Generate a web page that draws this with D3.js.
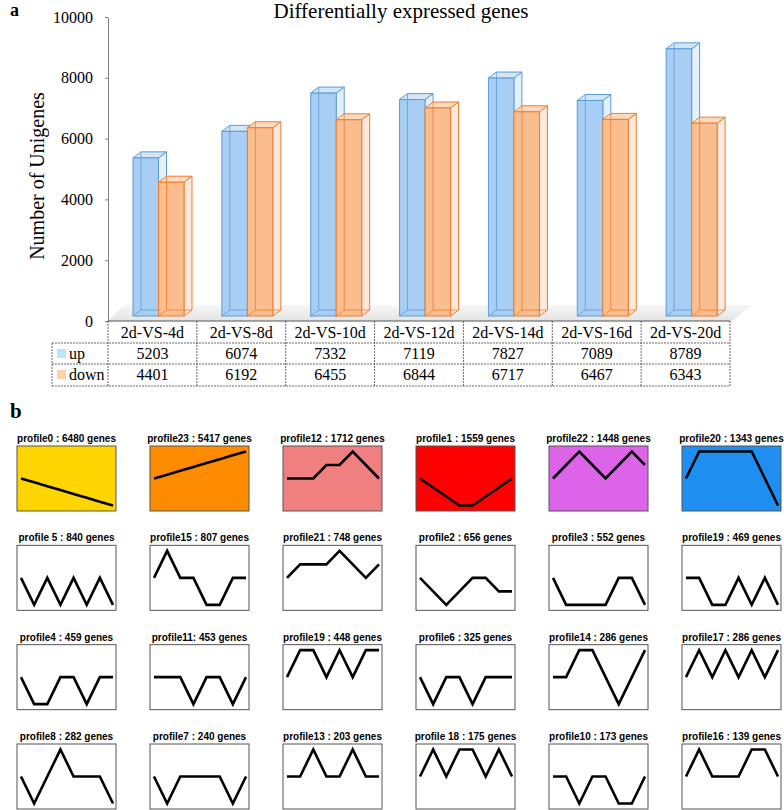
<!DOCTYPE html>
<html>
<head>
<meta charset="utf-8">
<script src="https://cdn.jsdelivr.net/npm/d3@7"></script>
<style>
  body { margin: 0; background: #fff; }
  svg { display: block; }
</style>
</head>
<body>
<div id="chart"></div>
<script>

// ---- panel a data ----
var categories = ['2d-VS-4d', '2d-VS-8d', '2d-VS-10d', '2d-VS-12d', '2d-VS-14d', '2d-VS-16d', '2d-VS-20d'];
var upValues = [5203, 6074, 7332, 7119, 7827, 7089, 8789];
var downValues = [4401, 6192, 6455, 6844, 6717, 6467, 6343];
var yTicks = [0, 2000, 4000, 6000, 8000, 10000];

// ---- panel b data (STEM profiles, unit changes at 8 time points) ----
var profileNames = [
    'profile0 : 6480 genes', 'profile23 : 5417 genes', 'profile12 : 1712 genes',
    'profile1 : 1559 genes', 'profile22 : 1448 genes', 'profile20 : 1343 genes',
    'profile 5 : 840 genes', 'profile15 : 807 genes', 'profile21 : 748 genes',
    'profile2 : 656 genes', 'profile3 : 552 genes', 'profile19 : 469 genes',
    'profile4 : 459 genes', 'profile11: 453 genes', 'profile19 : 448 genes',
    'profile6 : 325 genes', 'profile14 : 286 genes', 'profile17 : 286 genes',
    'profile8 : 282 genes', 'profile7 : 240 genes', 'profile13 : 203 genes',
    'profile 18 : 175 genes', 'profile10 : 173 genes', 'profile16 : 139 genes'
];
var profileColors = [
    '#ffd500', '#ff8c00', '#f08080', '#ff0000', '#dd63e8', '#1e8ff0'
];
var profileValues = [
    [0, -1, -2, -3, -4, -5, -6, -7],
    [0, 1, 2, 3, 4, 5, 6, 7],
    [0, 0, 0, 1, 1, 2, 1, 0],
    [0, -1, -2, -3, -3, -2, -1, 0],
    [0, 1, 2, 1, 0, 1, 2, 1],
    [0, 1, 1, 1, 1, 1, 0, -1],
    [0, -1, 0, -1, 0, -1, 0, -1],
    [0, 1, 0, 0, -1, -1, 0, 0],
    [0, 1, 1, 1, 2, 1, 0, 1],
    [0, -1, -2, -1, 0, 0, -1, -1],
    [0, -1, -1, -1, -1, 0, 0, -1],
    [0, 0, -1, -1, 0, -1, 0, -1],
    [0, -1, -1, 0, 0, -1, 0, 0],
    [0, 0, 0, -1, 0, 0, -1, 0],
    [0, 1, 1, 0, 1, 0, 1, 1],
    [0, -1, 0, 0, -1, 0, 0, 0],
    [0, 0, 1, 1, 0, -1, 0, 1],
    [0, 1, 0, 1, 0, 1, 0, 1],
    [0, -1, 0, 1, 0, 0, 0, -1],
    [0, -1, 0, 0, 0, 0, -1, 0],
    [0, 0, 1, 0, 0, 1, 0, 0],
    [0, 1, 0, 1, 1, 0, 1, 0],
    [0, 0, -1, 0, 0, -1, -1, 0],
    [0, 1, 0, 0, 0, 1, 1, 0]
];

var width = 784, height = 810;
var serif = '"Liberation Serif", "Times New Roman", serif';
var sans = '"Liberation Sans", Arial, sans-serif';

var svg = d3.select('#chart').append('svg')
    .attr('width', width)
    .attr('height', height);

// ================= panel a =================

var plot = { left: 108, right: 730, top: 17, bottom: 321 };
var floorOffset = 5;
var depth = { dx: 8, dy: -6 };

var x = d3.scaleBand()
    .domain(categories)
    .range([plot.left, plot.right]);

var sub = d3.scaleBand()
    .domain(['up', 'down'])
    .range([25, 76]);

var y = d3.scaleLinear()
    .domain([0, 10000])
    .range([plot.bottom, plot.top]);

svg.append('text')
    .attr('x', 10)
    .attr('y', 16)
    .style('font-family', serif)
    .style('font-weight', 'bold')
    .style('font-size', '18px')
    .text('a');

svg.append('text')
    .attr('x', 401)
    .attr('y', 18)
    .attr('text-anchor', 'middle')
    .style('font-family', serif)
    .style('font-size', '21px')
    .text('Differentially expressed genes');

svg.append('text')
    .attr('transform', 'translate(44,176) rotate(-90)')
    .attr('text-anchor', 'middle')
    .style('font-family', serif)
    .style('font-size', '20px')
    .text('Number of Unigenes');

// floor
var defs = svg.append('defs');
var grad = defs.append('linearGradient')
    .attr('id', 'floorGrad')
    .attr('x1', 0).attr('y1', 1).attr('x2', 0).attr('y2', 0);
grad.append('stop').attr('offset', '0%').attr('stop-color', '#e4e4e4');
grad.append('stop').attr('offset', '100%').attr('stop-color', '#f6f6f6');

svg.append('polygon')
    .attr('points', [
        [plot.left, plot.bottom],
        [plot.right + 2, plot.bottom],
        [plot.right + 22, plot.bottom - 16],
        [plot.left + 16, plot.bottom - 16]
    ].join(' '))
    .style('fill', 'url(#floorGrad)');

// y axis
var yAxis = svg.append('g')
    .attr('class', 'axis y-axis')
    .attr('transform', 'translate(' + plot.left + ',0)')
    .call(d3.axisLeft(y)
        .tickValues(yTicks)
        .tickFormat(d3.format('d'))
        .tickSize(3)
        .tickSizeOuter(0)
        .tickPadding(12));

yAxis.selectAll('path, line').attr('stroke', '#7f7f7f');
yAxis.selectAll('text')
    .style('font-family', serif)
    .style('font-size', '16px')
    .attr('fill', '#000');

// bars
var styles = {
    up: { front: '#a8cef4', side: '#e6f0fb', top: '#d3e6f8', stroke: '#5b9bd5' },
    down: { front: '#fabd8e', side: '#fce9dc', top: '#fcdac0', stroke: '#ed7d31' }
};

var barData = [];
categories.forEach(function(c, i) {
    barData.push({ cat: c, key: 'up', value: upValues[i] });
    barData.push({ cat: c, key: 'down', value: downValues[i] });
});

var bars = svg.append('g')
    .attr('class', 'bars')
    .selectAll('g.bar')
    .data(barData)
    .enter()
    .append('g')
    .attr('class', 'bar');

bars.each(function(d) {
    var g = d3.select(this);
    var s = styles[d.key];
    var x0 = x(d.cat) + sub(d.key);
    var w = sub.bandwidth();
    var yb = y(0) - floorOffset;
    var yt = y(d.value) - floorOffset;
    var dx = depth.dx, dy = depth.dy;

    g.append('polygon')
        .attr('points', [[x0 + w, yb], [x0 + w + dx, yb + dy], [x0 + w + dx, yt + dy], [x0 + w, yt]].join(' '))
        .attr('fill', s.side)
        .attr('stroke', s.stroke)
        .attr('stroke-width', 1);

    g.append('polygon')
        .attr('points', [[x0, yt], [x0 + dx, yt + dy], [x0 + w + dx, yt + dy], [x0 + w, yt]].join(' '))
        .attr('fill', s.top)
        .attr('stroke', s.stroke)
        .attr('stroke-width', 1);

    g.append('rect')
        .attr('x', x0)
        .attr('y', yt)
        .attr('width', w)
        .attr('height', yb - yt)
        .attr('fill', s.front)
        .attr('stroke', s.stroke)
        .attr('stroke-width', 1);

    // hidden back edges showing through
    g.append('path')
        .attr('d', 'M' + (x0 + dx) + ',' + (yt + dy) + 'V' + (yb + dy) +
            'H' + (x0 + w + dx) + 'M' + x0 + ',' + yb + 'L' + (x0 + dx) + ',' + (yb + dy))
        .attr('fill', 'none')
        .attr('stroke', s.stroke)
        .attr('stroke-opacity', 0.8)
        .attr('stroke-width', 1);
});

// data table
var table = { left: 52, header: 321, row1: 343, row2: 364, bottom: 386 };
var tg = svg.append('g').attr('class', 'table');
var dash = '2,1';

function tline(x1, y1, x2, y2, solid) {
    tg.append('line')
        .attr('x1', x1).attr('y1', y1)
        .attr('x2', x2).attr('y2', y2)
        .attr('stroke', solid ? '#555' : '#444')
        .attr('stroke-width', solid ? 1.2 : 0.8)
        .attr('stroke-dasharray', solid ? null : dash);
}

tline(plot.left, table.header, plot.right, table.header, true);
tline(table.left, table.row1, plot.right, table.row1);
tline(table.left, table.row2, plot.right, table.row2);
tline(table.left, table.bottom, plot.right, table.bottom);
tline(table.left, table.row1, table.left, table.bottom);
categories.forEach(function(c) {
    tline(x(c), table.header, x(c), table.bottom);
});
tline(plot.right, table.header, plot.right, table.bottom);

tg.selectAll('text.cat')
    .data(categories)
    .enter()
    .append('text')
    .attr('class', 'cat')
    .attr('x', function(d) { return x(d) + x.bandwidth() / 2; })
    .attr('y', 338)
    .attr('text-anchor', 'middle')
    .style('font-family', serif)
    .style('font-size', '16px')
    .text(function(d) { return d; });

[['up', upValues, 359], ['down', downValues, 380]].forEach(function(r) {
    tg.selectAll('text.v-' + r[0])
        .data(r[1])
        .enter()
        .append('text')
        .attr('class', 'v-' + r[0])
        .attr('x', function(d, i) { return x(categories[i]) + x.bandwidth() / 2; })
        .attr('y', r[2])
        .attr('text-anchor', 'middle')
        .style('font-family', serif)
        .style('font-size', '16px')
        .text(function(d) { return d; });

    tg.append('rect')
        .attr('x', 57)
        .attr('y', r[2] - 10)
        .attr('width', 9)
        .attr('height', 9)
        .attr('fill', r[0] === 'up' ? '#bfe3f9' : '#fbd3a6');

    tg.append('text')
        .attr('x', 69)
        .attr('y', r[2])
        .style('font-family', serif)
        .style('font-size', '16px')
        .text(r[0]);
});

// ================= panel b =================

svg.append('text')
    .attr('x', 10)
    .attr('y', 418)
    .style('font-family', serif)
    .style('font-weight', 'bold')
    .style('font-size', '21px')
    .text('b');

var box = { w: 99, h: 65 };
var colX = d3.scaleLinear().domain([0, 5]).range([17, 682]);
var rowY = d3.scaleLinear().domain([0, 3]).range([446, 744]);

var panels = svg.append('g')
    .attr('class', 'profiles')
    .selectAll('g.profile')
    .data(profileValues)
    .enter()
    .append('g')
    .attr('class', 'profile')
    .attr('transform', function(d, i) {
        return 'translate(' + [colX(i % 6), rowY(Math.floor(i / 6))] + ')';
    });

panels.append('text')
    .attr('x', box.w / 2)
    .attr('y', -4)
    .attr('text-anchor', 'middle')
    .style('font-family', sans)
    .style('font-weight', 'bold')
    .style('font-size', '10px')
    .text(function(d, i) { return profileNames[i]; });

panels.append('rect')
    .attr('width', box.w)
    .attr('height', box.h)
    .attr('fill', function(d, i) { return i < 6 ? profileColors[i] : '#fff'; })
    .attr('stroke', '#555')
    .attr('stroke-width', 1);

var px = d3.scaleLinear().domain([0, 7]).range([4, box.w - 3]);

panels.append('path')
    .attr('d', function(d) {
        var m = d3.max(d, function(v) { return Math.abs(v); });
        var py = d3.scaleLinear()
            .domain([-m, m])
            .range([box.h / 2 + 27, box.h / 2 - 27]);
        return d3.line()
            .x(function(v, i) { return px(i); })
            .y(function(v) { return py(v); })(d);
    })
    .attr('fill', 'none')
    .attr('stroke', '#000')
    .attr('stroke-width', 2.6)
    .attr('stroke-linejoin', 'miter');

</script>
</body>
</html>
